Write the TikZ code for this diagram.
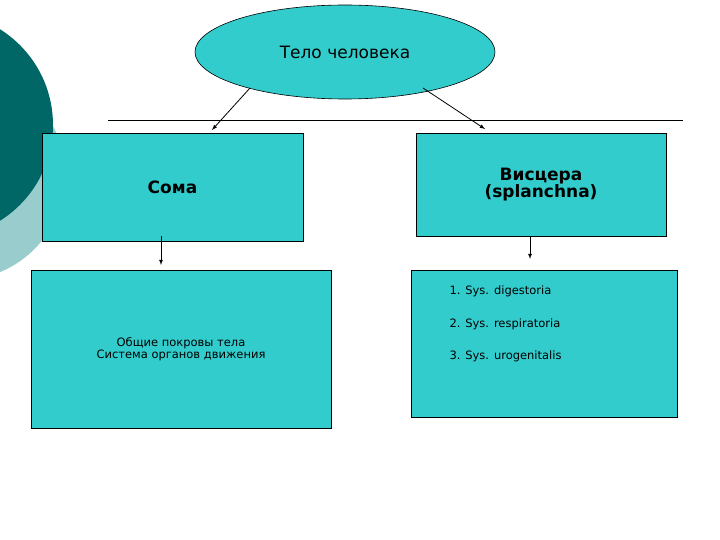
\documentclass[tikz,border=0pt]{standalone}
\usepackage{fontspec}
\setmainfont{DejaVu Sans}
\usetikzlibrary{shapes.geometric}
\begin{document}
\begin{tikzpicture}[x=1pt,y=-1pt,
  arr/.style={-latex,line width=0.8pt}]
\definecolor{boxc}{RGB}{51,204,204}
\tikzset{box/.style={draw=black,fill=boxc,line width=0.6pt}}
\useasboundingbox (0,0) rectangle (720,540);
\fill[white] (0,0) rectangle (720,540);
\begin{scope}
\clip (0,0) rectangle (720,540);
\fill[color={rgb,255:red,153;green,204;blue,204}] (-40,175) circle (105);
\fill[color={rgb,255:red,0;green,102;blue,102}] (-60,125) circle (113);
\end{scope}
\node[box,ellipse,minimum width=300,minimum height=94,inner sep=0] (top) at (345,52) {\fontsize{17}{20}\selectfont Тело человека};
\draw[line width=0.6pt] (108,120) coordinate (l1) -- (683,120) coordinate (l2);
\node[box,minimum width=261,minimum height=108,inner sep=0] (soma) at (172.5,187) {\fontsize{17}{20}\selectfont\bfseries Сома};
\node[box,minimum width=250,minimum height=103,inner sep=0,align=center] (visc) at (541,184.5) {\fontsize{17}{22}\selectfont\bfseries Висцера\\[-1pt]\fontsize{17}{22}\selectfont\bfseries (splanchna)};
\node[box,minimum width=300,minimum height=158,inner sep=0,align=center] (lb) at (181,349) {\fontsize{11.5}{14}\selectfont Общие покровы тела\\ \fontsize{11.5}{14}\selectfont Система органов движения};
\node[box,minimum width=266,minimum height=147,inner sep=0] (rb) at (544,343.5) {};
\node[anchor=west,font=\fontsize{11.5}{14}\selectfont] (t1) at (446,291) {1. Sys. digestoria};
\node[anchor=west,font=\fontsize{11.5}{14}\selectfont] (t2) at (446,324) {2. Sys. respiratoria};
\node[anchor=west,font=\fontsize{11.5}{14}\selectfont] (t3) at (446,356) {3. Sys. urogenitalis};
\coordinate (a0) at (250,88);
\coordinate (a1) at (212,130);
\coordinate (b0) at (423,88);
\coordinate (a2) at (485,129);
\coordinate (s1) at (161,236);
\coordinate (s1e) at (161,265);
\coordinate (s2) at (530,237);
\coordinate (s2e) at (530,259);
\draw[arr] (a0) -- (a1);
\draw[arr] (b0) -- (a2);
\draw[arr] (s1) -- (s1e);
\draw[arr] (s2) -- (s2e);
\end{tikzpicture}
\end{document}
